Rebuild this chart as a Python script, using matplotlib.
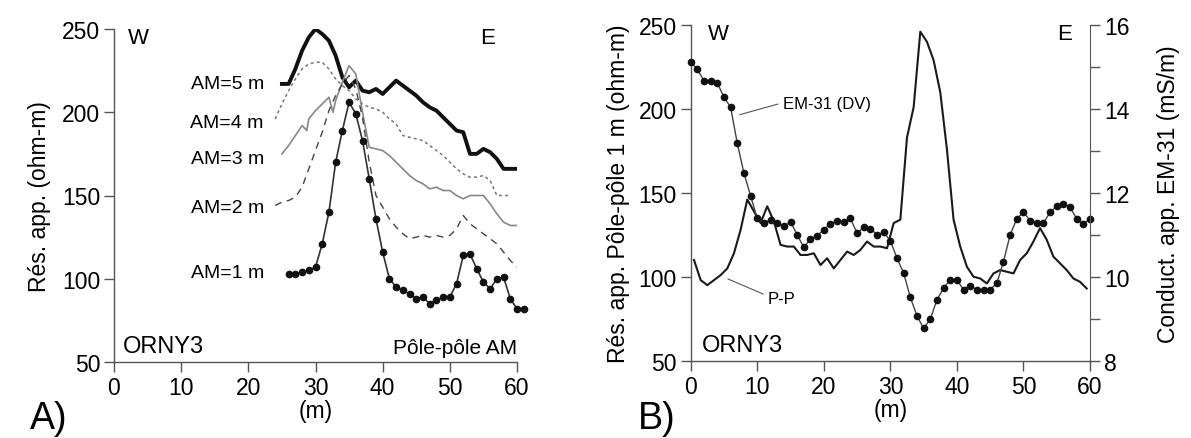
import matplotlib
matplotlib.use("Agg")
import matplotlib.pyplot as plt
from matplotlib.ticker import MultipleLocator

plt.rcParams['font.family'] = ['Liberation Sans', 'DejaVu Sans']

# ---- panel A: pole-pole profiles, apparent resistivity (ohm-m) ----
am1_x = list(range(26, 62))
am1_r = [103, 103, 104, 105, 107, 121, 140, 170, 189, 206, 199, 183, 160, 136,
         116, 100, 95, 93, 91, 88, 89, 85, 87, 89, 89, 97, 114, 115, 106, 98,
         94, 100, 101, 88, 82, 82]

am2_x = list(range(24, 61))
am2_r = [144, 146, 147, 149, 155, 166, 177, 188, 201, 210, 217, 222, 214, 197,
         170, 150, 143, 136, 131, 127, 124, 125, 126, 125, 126, 125, 126, 130,
         138, 133, 130, 127, 124, 121, 116, 111, 107]

am3_x = [25, 26, 27, 28, 28.7, 29, 30, 31, 32, 32.6, 33, 34, 35, 36, 37, 38, 39,
         40, 41, 42, 43, 44, 45, 46, 47, 48, 49, 50, 51, 52, 53, 54, 55, 56,
         57, 58, 59, 60]
am3_r = [175, 180, 186, 192, 189, 196, 201, 205, 209, 200, 207, 218, 228, 223,
         200, 179, 178, 177, 174, 170, 166, 162, 159, 157, 154, 155, 153, 153,
         150, 148, 150, 150, 150, 145, 139, 134, 132, 132]

am4_x = list(range(24, 60))
am4_r = [196, 205, 213, 220, 226, 229, 230, 230, 226, 220, 216, 213, 208, 205,
         203, 202, 200, 196, 193, 186, 185, 184, 183, 180, 177, 174, 170, 166,
         163, 161, 161, 162, 159, 150, 150, 150]

am5_x = list(range(25, 61))
am5_r = [217, 217, 226, 237, 245, 250, 247, 243, 234, 221, 215, 219, 213, 212,
         214, 211, 215, 219, 216, 213, 210, 206, 203, 201, 197, 193, 189, 188,
         175, 175, 178, 176, 172, 166, 166, 166]

am_labels = ["AM=5 m", "AM=4 m", "AM=3 m", "AM=2 m", "AM=1 m"]
am_label_y = [217, 194, 172, 143, 104]

# ---- panel B: pole-pole 1 m (ohm-m) and EM-31 conductivity (mS/m) ----
pp_x = [i + 0.5 for i in range(60)]
pp_r = [110, 98, 95, 98, 101, 105, 114, 128, 146, 139, 132, 142, 133, 119, 118,
        118, 113, 113, 114, 107, 111, 105, 110, 115, 113, 116, 121, 118, 118,
        117, 132, 134, 183, 201, 246, 240, 229, 210, 176, 134, 118, 106, 100,
        99, 96, 102, 104, 103, 102, 110, 114, 121, 129, 122, 112, 108, 104, 99,
        97, 93]

em_x = list(range(61))
em_c = [15.13, 14.94, 14.67, 14.67, 14.62, 14.28, 14.04, 13.18, 12.47, 11.93,
        11.39, 11.28, 11.36, 11.28, 11.20, 11.31, 11.00, 10.70, 10.90, 10.98,
        11.12, 11.26, 11.34, 11.30, 11.39, 11.04, 11.18, 11.15, 11.00, 11.06,
        10.86, 10.44, 10.09, 9.51, 9.07, 8.77, 8.99, 9.45, 9.73, 9.93, 9.93,
        9.69, 9.79, 9.69, 9.69, 9.69, 9.85, 10.36, 11.00, 11.38, 11.54, 11.34,
        11.28, 11.28, 11.54, 11.68, 11.74, 11.66, 11.38, 11.26, 11.38]

W, H = 1191, 439
fig = plt.figure(figsize=(W / 100, H / 100), dpi=100)

tick_fs = 16.5
spine_c = '#555555'


def style_axis(ax):
    for s in ['top', 'right']:
        ax.spines[s].set_visible(False)
    for s in ax.spines.values():
        s.set_color(spine_c)
        s.set_linewidth(1.0)
    ax.tick_params(direction='out', length=7, width=1, color=spine_c,
                   labelsize=tick_fs, pad=3)
    ax.set_xlim(0, 60)
    ax.set_ylim(50, 250)
    ax.set_xticks(range(0, 61, 10))
    ax.set_yticks(range(50, 251, 50))


# panel A
ax1 = fig.add_axes([114 / W, (H - 363) / H, (517 - 114) / W, (363 - 30) / H])
style_axis(ax1)
ax1.plot(am5_x, am5_r, color='#111111', lw=2.8)
ax1.plot(am4_x, am4_r, color='#777777', lw=1.1, ls=(0, (2, 2)))
ax1.plot(am3_x, am3_r, color='#888888', lw=1.2)
ax1.plot(am2_x, am2_r, color='#444444', lw=1.0, ls=(0, (5, 4)))
ax1.plot(am1_x, am1_r, color='#333333', lw=1.2, marker='o', ms=4.5,
         mfc='#111111', mec='#111111', clip_on=False)
for lab, yy in zip(am_labels, am_label_y):
    ax1.text(22.3, yy, lab, fontsize=14, ha='right', va='center')
ax1.text(2.0, 251, "W", fontsize=16, ha='left', va='top')
ax1.text(54.5, 251, "E", fontsize=16, ha='left', va='top')
ax1.text(1.3, 53, "ORNY3", fontsize=17, ha='left', va='bottom')
ax1.text(60, 53, "Pôle-pôle AM", fontsize=15, ha='right', va='bottom')
ax1.set_ylabel("Rés. app. (ohm-m)", fontsize=16.5, labelpad=8)
ax1.set_xlabel("(m)", fontsize=16.5, labelpad=0)
fig.text(30 / W, 2 / H, "A)", fontsize=27, ha='left', va='bottom')

# panel B
ax2 = fig.add_axes([690.7 / W, (H - 361.7) / H, (1090 - 690.7) / W,
                    (361.7 - 26) / H])
style_axis(ax2)
ax2.plot(pp_x, pp_r, color='#1a1a1a', lw=1.5)
ax2.set_ylabel("Rés. app. Pôle-pôle 1 m (ohm-m)", fontsize=16.5, labelpad=6)
ax2.set_xlabel("(m)", fontsize=16.5, labelpad=0)
ax2.text(2.6, 251, "W", fontsize=16, ha='left', va='top')
ax2.text(55.0, 251, "E", fontsize=16, ha='left', va='top')
ax2.text(1.7, 53, "ORNY3", fontsize=17, ha='left', va='bottom')
ax2.text(13.9, 203, "EM-31 (DV)", fontsize=12, ha='left', va='center')
ax2.plot([7.4, 13.1], [196.6, 202.9], color='#555555', lw=0.8)
ax2.text(11.6, 87, "P-P", fontsize=12, ha='left', va='center')
ax2.plot([5.6, 10.9], [98.7, 89.7], color='#555555', lw=0.8)

ax3 = ax2.twinx()
ax3.set_position(ax2.get_position())
for s in ['top', 'left', 'bottom']:
    ax3.spines[s].set_visible(False)
ax3.spines['right'].set_color(spine_c)
ax3.set_ylim(8, 16)
ax3.set_yticks([8, 10, 12, 14, 16])
ax3.yaxis.set_minor_locator(MultipleLocator(1))
ax3.tick_params(which='both', direction='out', length=7, width=1,
                color=spine_c, labelsize=tick_fs, pad=3)
ax3.plot(em_x, em_c, color='#444444', lw=1.0, marker='o', ms=4.5,
         mfc='#111111', mec='#111111', clip_on=False)
ax3.set_ylabel("Conduct. app. EM-31 (mS/m)", fontsize=16.5, labelpad=20)
fig.text(638 / W, 2 / H, "B)", fontsize=27, ha='left', va='bottom')

fig.savefig("out.png", dpi=100)
